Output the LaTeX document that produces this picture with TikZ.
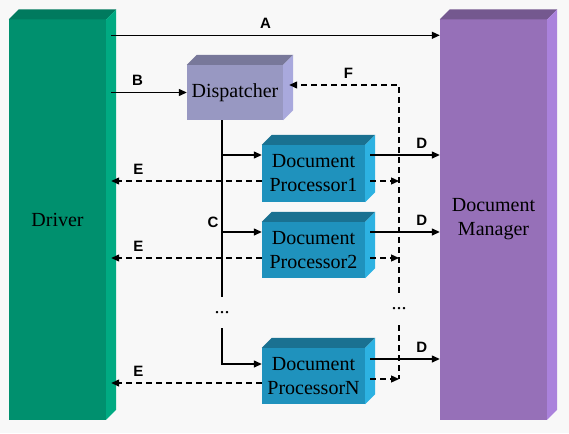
\documentclass[tikz,border=0pt]{standalone}
\usepackage{fontspec}
\setmainfont{Liberation Serif}
\newfontfamily\boxfont{Liberation Serif}
\newfontfamily\lblfont{Liberation Sans}
\usetikzlibrary{arrows.meta}

\definecolor{bgcol}{HTML}{F8F8F8}
\definecolor{drvfront}{HTML}{00906E}
\definecolor{drvtop}{HTML}{007A5E}
\definecolor{drvside}{HTML}{00AA82}
\definecolor{mgrfront}{HTML}{9670B8}
\definecolor{mgrtop}{HTML}{74588F}
\definecolor{mgrside}{HTML}{AA82DC}
\definecolor{dspfront}{HTML}{9898C2}
\definecolor{dsptop}{HTML}{78789A}
\definecolor{dspside}{HTML}{A9A9DD}
\definecolor{prcfront}{HTML}{1F92BD}
\definecolor{prctop}{HTML}{1A7191}
\definecolor{prcside}{HTML}{2DB2E2}

\tikzset{
  face/.style={inner sep=0pt, align=center, font=\boxfont\fontsize{20}{24}\selectfont},
  procbox/.style={face, fill=prcfront, minimum width=103pt, minimum height=56pt},
  dotsnode/.style={inner sep=0pt, font=\boxfont\fontsize{20}{24}\selectfont},
  sline/.style={line width=1.3pt},
  arr/.style={sline, -{Triangle[length=8pt,width=7pt]}},
  dline/.style={sline, dash pattern=on 6pt off 4pt},
  darr/.style={dline, -{Triangle[length=8pt,width=7pt]}},
  lbl/.style={font=\lblfont\bfseries\fontsize{15}{15}\selectfont, inner sep=1pt}
}

% top and side faces of a box node: name, top colour, side colour
\newcommand{\boxsides}[3]{
  \fill[#2] (#1.north west) -- ++(10,-10) -- ([shift={(10,-10)}]#1.north east) -- (#1.north east) -- cycle;
  \fill[#3] (#1.north east) -- ++(10,-10) -- ([shift={(10,-10)}]#1.south east) -- (#1.south east) -- cycle;
}

\begin{document}
\begin{tikzpicture}[x=1pt,y=-1pt]
\fill[bgcol] (0,0) rectangle (569,433);
\useasboundingbox (0,0) rectangle (569,433);

\node[face, fill=drvfront, minimum width=97pt, minimum height=400pt] (driver) at (57.5,219.5) {Driver};
\boxsides{driver}{drvtop}{drvside}
\node[face, fill=mgrfront, minimum width=107pt, minimum height=400pt] (manager) at (493.5,219.5) {Document\\Manager};
\boxsides{manager}{mgrtop}{mgrside}
\node[face, fill=dspfront, minimum width=96pt, minimum height=55pt] (disp) at (235,92.5) {Dispatcher};
\boxsides{disp}{dsptop}{dspside}
\node[procbox, minimum height=57pt] (proc1) at (313.5,173.5) {Document\\Processor1};
\boxsides{proc1}{prctop}{prcside}
\node[procbox] (proc2) at (313.5,250) {Document\\Processor2};
\boxsides{proc2}{prctop}{prcside}
\node[procbox] (procN) at (313.5,376) {Document\\ProcessorN};
\boxsides{procN}{prctop}{prcside}

\node[dotsnode, minimum height=31pt] (dots1) at (222,312.5) {...};
\node[dotsnode, minimum height=32pt] (dots2) at (399,309) {...};

\coordinate (drvin) at ([xshift=5pt]driver.east);
\coordinate (aout) at ([xshift=5pt,yshift=-16pt]driver.north east);
\coordinate (fin) at ([xshift=6pt,yshift=7.5pt]disp.east);
\coordinate (p1c) at ([yshift=18.5pt]proc1.west);
\coordinate (p1e) at ([yshift=-7.5pt]proc1.west);
\coordinate (p1d) at ([xshift=5pt,yshift=18.5pt]proc1.east);
\coordinate (p1f) at ([xshift=5pt,yshift=-7.5pt]proc1.east);
\coordinate (p2c) at ([yshift=18pt]proc2.west);
\coordinate (p2e) at ([yshift=-8pt]proc2.west);
\coordinate (p2d) at ([xshift=5pt,yshift=18pt]proc2.east);
\coordinate (p2f) at ([xshift=5pt,yshift=-8pt]proc2.east);
\coordinate (pNc) at ([yshift=12pt]procN.west);
\coordinate (pNe) at ([yshift=-7pt]procN.west);
\coordinate (pNd) at ([xshift=5pt,yshift=17pt]procN.east);
\coordinate (pNf) at ([xshift=5pt,yshift=-3pt]procN.east);

\draw[arr] (aout) -- node[lbl, above=5pt, pos=0.47] {A} (manager.west |- aout);
\draw[arr] (drvin |- disp.west) -- node[lbl, above=5pt, pos=0.35] {B} (disp.west);

\draw[sline] (disp.south -| dots1) -- node[lbl, left=2pt, pos=0.58] {C} (dots1.north);
\draw[arr] (dots1 |- p1c) -- (p1c);
\draw[arr] (dots1 |- p2c) -- (p2c);
\draw[arr] (dots1.south) |- (pNc);

\draw[darr] (p1e) -- node[lbl, above=5pt, pos=0.82] {E} (drvin |- p1e);
\draw[darr] (p2e) -- node[lbl, above=5pt, pos=0.82] {E} (drvin |- p2e);
\draw[darr] (pNe) -- node[lbl, above=5pt, pos=0.82] {E} (drvin |- pNe);

\draw[arr] (p1d) -- node[lbl, above=5pt, pos=0.74] {D} (manager.west |- p1d);
\draw[arr] (p2d) -- node[lbl, above=5pt, pos=0.74] {D} (manager.west |- p2d);
\draw[arr] (pNd) -- node[lbl, above=5pt, pos=0.74] {D} (manager.west |- pNd);

\draw[darr] (p1f) -- (p1f -| dots2);
\draw[darr] (p2f) -- (p2f -| dots2);
\draw[darr] (pNf) -- (pNf -| dots2);
\draw[dline] (dots2.south) -- (dots2 |- pNf);
\draw[darr] (dots2.north) -- (dots2 |- fin) -- node[lbl, above=5pt, pos=0.46] {F} (fin);
\end{tikzpicture}
\end{document}
